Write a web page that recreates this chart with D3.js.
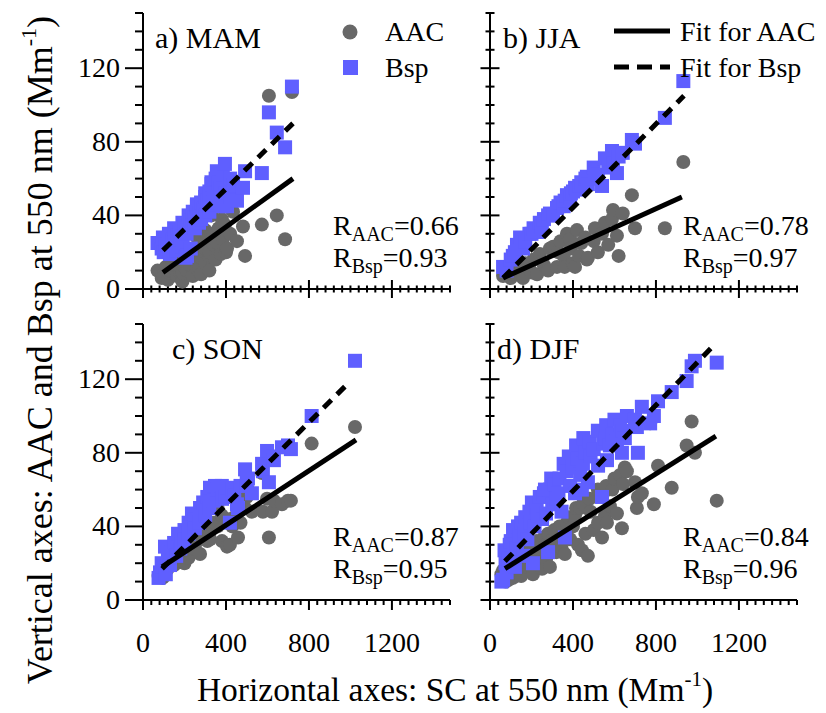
<!DOCTYPE html>
<html>
<head>
<meta charset="utf-8">
<script src="https://cdn.jsdelivr.net/npm/d3@7"></script>
<style>
  body { margin: 0; background: #fff; }
</style>
</head>
<body>
<div id="chart"></div>
<script>
// each sample: [SC, AAC, Bsp]  (Mm-1)
var mamData = [
  [70,10,25],[90,6,22],[96,8,28],[100,7,20],[110,12,24],[120,5,22],[125,9,30],[130,10,19],
  [140,14,27],[150,20,30],[150,11,33],[160,8,21],[165,7,29],[178,9,31],[180,12,27],[190,4,26],
  [190,15,36],[190,9,23],[200,12,34],[205,12,17],[210,14,30],[212,10,18],[220,18,40],[230,15,22],
  [230,13,37],[240,7,35],[240,20,42],[250,19,33],[250,16,39],[260,28,46],[260,11,45],[270,12,36],
  [270,22,41],[280,8,38],[280,17,47],[290,25,44],[300,22,40],[300,32,52],[300,14,50],[310,28,48],
  [320,18,42],[320,10,46],[320,20,53],[330,40,58],[330,30,57],[340,30,47],[340,24,52],[350,16,60],
  [356,60,64],[360,25,50],[365,33,58],[375,19,55],[380,38,45],[385,27,62],[395,35,68],[400,20,52],
  [405,22,45],[420,44,60],[420,30,50],[434,42,56],[453,26,48],[482,34,55],[492,18,64],[573,35,63],
  [607,105,96],[645,40,85],[685,27,77],[718,107,110]
];
var jjaData = [
  [63,7,12],[80,9,10],[100,6,16],[110,8,18],[120,10,20],[130,11,24],[145,12,28],[159,6,22],
  [170,14,26],[190,11,30],[200,9,30],[210,16,33],[227,8,31],[240,19,36],[250,15,34],[260,13,38],
  [280,10,40],[289,22,41],[304,23,40],[323,12,44],[330,20,45],[340,26,47],[355,18,45],[360,12,48],
  [371,30,51],[386,27,49],[390,22,52],[400,14,53],[410,12,55],[419,32,54],[430,18,56],[440,25,58],
  [460,28,60],[467,16,61],[472,17,57],[500,26,66],[506,33,60],[520,20,62],[540,30,56],[554,36,71],
  [570,24,66],[588,38,75],[593,43,68],[612,29,63],[620,18,72],[640,41,74],[684,51,81],[699,33,79],
  [843,33,93],[932,69,113]
];
var sonData = [
  [75,13,12],[82,15,15],[90,14,20],[95,12,18],[106,20,29],[110,18,14],[120,17,22],[130,20,19],
  [135,22,26],[150,19,31],[160,22,24],[169,24,36],[180,26,28],[185,21,30],[200,27,38],[200,20,33],
  [220,23,42],[220,28,36],[236,30,47],[250,28,44],[250,30,39],[270,33,42],[275,25,50],[290,35,53],
  [300,38,46],[310,32,56],[320,36,50],[323,33,61],[340,42,54],[347,61,62],[360,40,58],[360,50,60],
  [380,46,62],[381,32,55],[400,44,56],[405,29,61],[419,30,42],[430,40,60],[440,45,57],[453,43,52],
  [458,34,50],[470,42,62],[492,50,71],[500,56,64],[506,60,66],[525,48,58],[574,69,74],[578,48,70],
  [598,55,81],[607,34,64],[622,48,78],[631,54,76],[670,52,83],[699,54,84],[713,54,82],[813,85,100],
  [1022,94,130]
];
var djfData = [
  [55,14,10],[63,16,11],[70,12,27],[75,10,20],[80,18,15],[90,11,22],[95,15,30],[100,20,32],
  [111,12,38],[115,18,25],[120,22,18],[130,15,28],[135,20,40],[140,24,35],[150,13,42],[160,26,24],
  [165,22,36],[170,19,45],[180,28,33],[190,17,48],[195,26,42],[202,30,53],[207,14,20],[215,25,40],
  [225,32,50],[230,28,46],[240,20,56],[251,17,44],[260,34,58],[265,30,60],[270,22,47],[280,36,26],
  [289,18,60],[295,32,66],[300,30,52],[310,38,63],[320,26,55],[330,35,58],[335,40,66],[345,28,48],
  [355,38,74],[361,25,34],[370,42,70],[380,45,78],[386,33,62],[400,40,72],[410,46,58],[415,50,84],
  [424,30,77],[435,50,68],[443,27,60],[448,56,74],[450,52,88],[460,36,80],[472,24,64],[480,55,86],
  [485,48,78],[500,38,82],[520,60,92],[521,42,73],[540,34,56],[546,58,85],[555,46,88],[560,62,95],
  [564,42,76],[578,51,84],[590,60,90],[600,66,98],[612,47,86],[627,68,95],[636,39,80],[641,63,92],
  [650,72,88],[660,70,100],[699,64,98],[708,50,94],[713,56,80],[732,58,105],[772,96,96],[790,52,100],
  [810,73,108],[876,61,113],[948,84,119],[972,97,127],[988,80,130],[1093,54,129]
];

var seasonLabels = ["a) MAM", "b) JJA", "c) SON", "d) DJF"];
var seasonData = [mamData, jjaData, sonData, djfData];

// fit lines: [sc start, value start, sc end, value end]
var fitAAC = [[96,9,723,60],[63,6,925,50],[92,18,1027,87],[72,17,1089,89]];
var fitBsp = [[96,21,723,90],[63,6,935,105],[92,17,1000,119],[72,21,1084,139]];

var rAAC = ["0.66","0.78","0.87","0.84"];
var rBsp = ["0.93","0.97","0.95","0.96"];

var xMajor = [0, 400, 800, 1200];
var yMajor = [0, 40, 80, 120];

var W = 826, H = 713;
var grey = "#686868", blue = "#5f5fff";
var serif = "'Liberation Serif', 'Times New Roman', Times";

var svg = d3.select("#chart").append("svg")
    .attr("width", W).attr("height", H);

function label(sel, size) {
    return sel.append("text").style("font-family", serif).attr("font-size", size).attr("fill", "#000");
}

// panel placement (pixels)
var panels = [
  {left: 143, bottom: 289, col: 0, row: 0},
  {left: 490, bottom: 289, col: 1, row: 0},
  {left: 143, bottom: 600, col: 0, row: 1},
  {left: 490, bottom: 600, col: 1, row: 1}
];
var pw = 307, ph = 276;

panels.forEach(function(p, i) {
    var x = d3.scaleLinear().domain([0, 1480]).range([p.left, p.left + pw]);
    var y = d3.scaleLinear().domain([0, 150]).range([p.bottom, p.bottom - ph]);
    var g = svg.append("g");

    // axes lines
    g.append("line").attr("x1", x(0)).attr("x2", x(1480)).attr("y1", y(0)).attr("y2", y(0))
        .attr("stroke", "#000").attr("stroke-width", 2);
    g.append("line").attr("x1", x(0)).attr("x2", x(0)).attr("y1", y(0)).attr("y2", y(150))
        .attr("stroke", "#000").attr("stroke-width", 2);

    // x ticks (cross the axis on top row, outside on bottom row)
    g.selectAll(".xt").data(d3.range(0, 1481, 40)).enter().append("line")
        .attr("x1", function(d) { return x(d); })
        .attr("x2", function(d) { return x(d); })
        .attr("y1", function(d) {
            var big = d % 400 === 0;
            return p.row === 0 ? y(0) - (big ? 9 : 3.5) : y(0);
        })
        .attr("y2", function(d) {
            var big = d % 400 === 0;
            return p.row === 0 ? y(0) + (big ? 9 : 3.5) : y(0) + (big ? 10 : 5);
        })
        .attr("stroke", "#000").attr("stroke-width", 2);

    // y ticks (outside on left column, crossing on right column)
    g.selectAll(".yt").data(d3.range(0, 151, 10)).enter().append("line")
        .attr("y1", function(d) { return y(d); })
        .attr("y2", function(d) { return y(d); })
        .attr("x1", function(d) {
            var big = d % 40 === 0;
            return p.col === 0 ? x(0) - (big ? 18 : 8) : x(0) - (big ? 9.5 : 4.5);
        })
        .attr("x2", function(d) {
            var big = d % 40 === 0;
            return p.col === 0 ? x(0) : x(0) + (big ? 9.5 : 4.5);
        })
        .attr("stroke", "#000").attr("stroke-width", 2);

    if (p.col === 0) {
        yMajor.forEach(function(d) {
            label(g, 28).attr("x", x(0) - 23).attr("y", y(d) + 9)
                .attr("text-anchor", "end").text(d);
        });
    }
    if (p.row === 1) {
        xMajor.forEach(function(d) {
            label(g, 28).attr("x", x(d)).attr("y", 652)
                .attr("text-anchor", "middle").text(d);
        });
    }

    var data = seasonData[i];
    // grey circles (AAC)
    g.selectAll(".aac").data(data).enter().append("circle")
        .attr("cx", function(d) { return x(d[0]); })
        .attr("cy", function(d) { return y(d[1]); })
        .attr("r", 7)
        .attr("fill", grey);
    // blue squares (Bsp)
    g.selectAll(".bsp").data(data).enter().append("rect")
        .attr("x", function(d) { return x(d[0]) - 7; })
        .attr("y", function(d) { return y(d[2]) - 7; })
        .attr("width", 14).attr("height", 14)
        .attr("fill", blue);

    // fits
    var fa = fitAAC[i], fb = fitBsp[i];
    g.append("line")
        .attr("x1", x(fa[0])).attr("y1", y(fa[1])).attr("x2", x(fa[2])).attr("y2", y(fa[3]))
        .attr("stroke", "#000").attr("stroke-width", 5);
    g.append("line")
        .attr("x1", x(fb[0])).attr("y1", y(fb[1])).attr("x2", x(fb[2])).attr("y2", y(fb[3]))
        .attr("stroke", "#000").attr("stroke-width", 5).attr("stroke-dasharray", "11,8");

    // season label
    var lx = [155, 503, 172, 497][i];
    label(g, 30).attr("x", lx).attr("y", p.bottom - 241).text(seasonLabels[i]);

    // correlation text
    var rx = p.left + (p.col === 0 ? 190 : 193);
    var t1 = label(g, 28).attr("x", rx).attr("y", p.bottom - 54);
    t1.append("tspan").text("R");
    t1.append("tspan").attr("font-size", 20).attr("dy", 6).text("AAC");
    t1.append("tspan").attr("dy", -6).text("=" + rAAC[i]);
    var t2 = label(g, 28).attr("x", rx).attr("y", p.bottom - 22);
    t2.append("tspan").text("R");
    t2.append("tspan").attr("font-size", 20).attr("dy", 6).text("Bsp");
    t2.append("tspan").attr("dy", -6).text("=" + rBsp[i]);
});

// legend, symbols
var leg = svg.append("g");
leg.append("circle").attr("cx", 350).attr("cy", 32).attr("r", 7.5).attr("fill", grey);
label(leg, 28).attr("x", 385).attr("y", 41).text("AAC");
leg.append("rect").attr("x", 343).attr("y", 60).attr("width", 15).attr("height", 15).attr("fill", blue);
label(leg, 28).attr("x", 385).attr("y", 77).text("Bsp");

// legend, fits
leg.append("line").attr("x1", 614).attr("x2", 670).attr("y1", 31).attr("y2", 31)
    .attr("stroke", "#000").attr("stroke-width", 5);
label(leg, 28).attr("x", 680).attr("y", 41).text("Fit for AAC");
leg.append("line").attr("x1", 614).attr("x2", 670).attr("y1", 67).attr("y2", 67)
    .attr("stroke", "#000").attr("stroke-width", 5).attr("stroke-dasharray", "15,8");
label(leg, 28).attr("x", 680).attr("y", 77).text("Fit for Bsp");

// axis titles
var xt = label(svg, 33.5).attr("x", 455).attr("y", 701).attr("text-anchor", "middle");
xt.append("tspan").text("Horizontal axes: SC at 550 nm (Mm");
xt.append("tspan").attr("font-size", 21).attr("dy", -15).text("-1");
xt.append("tspan").attr("dy", 15).text(")");

var yt = label(svg, 36).attr("transform", "translate(52,350) rotate(-90)")
    .attr("text-anchor", "middle");
yt.append("tspan").text("Vertical axes: AAC and Bsp at 550 nm (Mm");
yt.append("tspan").attr("font-size", 22).attr("dy", -16).text("-1");
yt.append("tspan").attr("dy", 16).text(")");
</script>
</body>
</html>
